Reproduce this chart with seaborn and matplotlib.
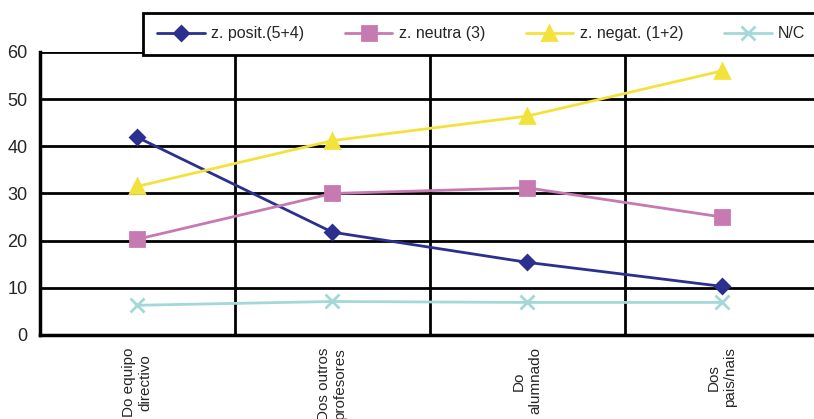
import pandas as pd
import matplotlib.pyplot as plt
import seaborn as sns

# === Data ===
categories = ["Do equipo\ndirectivo", "Dos outros\nprofesores", "Do\nalumnado", "Dos\npais/nais"]
series_names = ["z. posit.(5+4)", "z. neutra (3)", "z. negat. (1+2)", "N/C"]
posit = [41.9, 21.8, 15.4, 10.3]
neutra = [20.3, 30.0, 31.2, 25.0]
negat = [31.5, 41.2, 46.4, 56.0]
nc = [6.3, 7.1, 6.9, 6.9]

colors = ["#2b2f8e", "#c779b2", "#f4e23c", "#a3d8d6"]
markers = ["D", "s", "^", "x"]
msizes = [7.5, 10, 10, 10]

# === Style ===
sns.set_style("white")
plt.rcParams["font.family"] = ["Liberation Sans", "DejaVu Sans"]

fig = plt.figure(figsize=(8.14, 4.19), dpi=100)
ax = fig.add_axes([0.049, 0.2005, 0.958, 0.6755])

for name, vals, c, m, ms in zip(series_names, [posit, neutra, negat, nc], colors, markers, msizes):
    d = pd.DataFrame({"pos": range(len(vals)), "value": vals})
    sns.lineplot(data=d, x="pos", y="value", color=c, marker=m, markersize=ms,
                 markeredgecolor=c, markeredgewidth=2, linewidth=2,
                 label=name, ax=ax, zorder=3)

ax.set_xlim(-0.5, 3.5)
ax.set_ylim(0, 60)
ax.set_yticks(range(0, 61, 10))
ax.set_xticks(range(4))
ax.set_xticklabels(categories, rotation=90, ha="center", va="top",
                   multialignment="center", fontsize=11)
ax.set_xticks([-0.5, 0.5, 1.5, 2.5, 3.5], minor=True)
ax.tick_params(axis="x", which="major", length=0, pad=9)
ax.tick_params(axis="x", which="minor", length=5, width=2, color="black")
ax.tick_params(axis="y", length=6, width=2, color="black", labelsize=13, pad=3)
ax.set_xlabel("")
ax.set_ylabel("")

for y in range(10, 61, 10):
    ax.axhline(y, color="black", linewidth=2, zorder=0)
for x in [0.5, 1.5, 2.5]:
    ax.axvline(x, color="black", linewidth=2, zorder=0)

for s in ["top", "right"]:
    ax.spines[s].set_visible(False)
for s in ["left", "bottom"]:
    ax.spines[s].set_color("black")
    ax.spines[s].set_linewidth(2.5)

handles, labels = ax.get_legend_handles_labels()
ax.get_legend().remove()
leg = fig.legend(handles, labels, loc="lower left", ncol=4,
                 bbox_to_anchor=(0.176, 0.869, 0.83, 0.10), mode="expand",
                 fontsize=11.5, frameon=True, fancybox=False, borderpad=0.85,
                 columnspacing=3.4, handlelength=3, handletextpad=0.4,
                 borderaxespad=0)
leg.get_frame().set_edgecolor("black")
leg.get_frame().set_linewidth(2)
leg.get_frame().set_alpha(1)

plt.savefig("out.png", dpi=100)
